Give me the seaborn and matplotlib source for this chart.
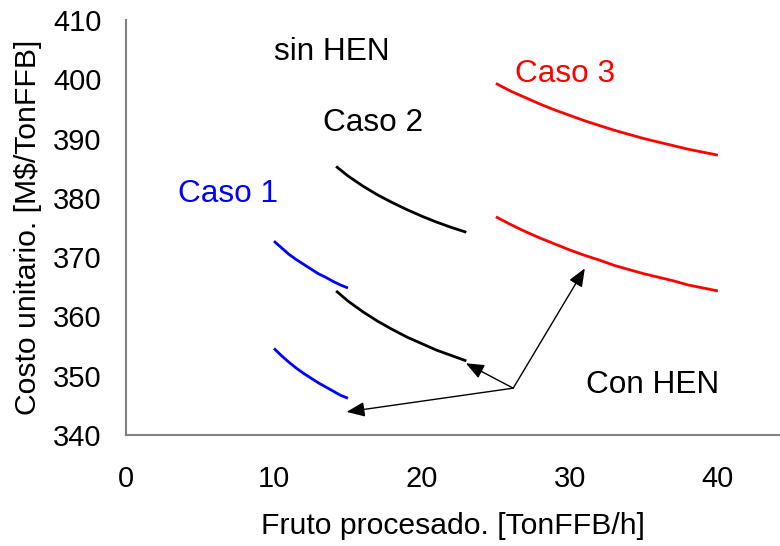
import matplotlib
matplotlib.use("Agg")
import matplotlib.pyplot as plt
import seaborn as sns
import pandas as pd

# Fruit throughput [TonFFB/h] for each case
x_caso1 = [10, 10.5, 11, 11.5, 12, 12.5, 13, 13.5, 14, 14.5, 15]
x_caso2 = [14.2, 15, 16, 17, 18, 19, 20, 21, 22, 23]
x_caso3 = [25, 26, 27, 28, 29, 30, 31, 32, 33, 34, 35, 36, 37, 38, 39, 40]

# Unit cost [M$/TonFFB] without and with heat exchanger network (HEN)
caso1_sin = [372.7, 371.6, 370.5, 369.6, 368.8, 368.0, 367.2, 366.6, 365.9, 365.3, 364.8]
caso1_con = [354.6, 353.4, 352.3, 351.3, 350.4, 349.6, 348.8, 348.1, 347.4, 346.7, 346.2]
caso2_sin = [385.3, 383.7, 382.0, 380.5, 379.2, 378.0, 376.9, 375.9, 375.0, 374.2]
caso2_con = [364.3, 362.6, 360.8, 359.2, 357.8, 356.5, 355.4, 354.3, 353.4, 352.5]
caso3_sin = [399.3, 398.0, 396.9, 395.8, 394.8, 393.9, 393.0, 392.2, 391.4, 390.7,
             390.0, 389.4, 388.8, 388.2, 387.7, 387.2]
caso3_con = [376.8, 375.5, 374.3, 373.2, 372.2, 371.2, 370.3, 369.5, 368.6, 367.9,
             367.2, 366.6, 366.0, 365.3, 364.8, 364.3]

casos = ["Caso 1", "Caso 2", "Caso 3"]
colores = {"Caso 1": "#0000FF", "Caso 2": "#000000", "Caso 3": "#FF0000"}

x_ticks = [0, 10, 20, 30, 40]
y_ticks = [340, 350, 360, 370, 380, 390, 400, 410]

series = [
    ("Caso 1", "sin", x_caso1, caso1_sin),
    ("Caso 1", "con", x_caso1, caso1_con),
    ("Caso 2", "sin", x_caso2, caso2_sin),
    ("Caso 2", "con", x_caso2, caso2_con),
    ("Caso 3", "sin", x_caso3, caso3_sin),
    ("Caso 3", "con", x_caso3, caso3_con),
]
rows = []
for caso, hen, xs, ys in series:
    for xv, yv in zip(xs, ys):
        rows.append({"fruto": xv, "costo": yv, "caso": caso, "serie": f"{caso} {hen}"})
df = pd.DataFrame(rows)

sns.set_theme(style="white")
plt.rcParams["font.family"] = ["Liberation Sans", "DejaVu Sans"]
plt.rcParams["text.color"] = "black"
plt.rcParams["axes.labelcolor"] = "black"

fig = plt.figure(figsize=(7.8, 5.46), dpi=100)
ax = fig.add_axes([126 / 780, (546 - 435) / 546, 654 / 780, 415 / 546])

sns.lineplot(data=df, x="fruto", y="costo", hue="caso", units="serie",
             estimator=None, palette=colores, hue_order=casos,
             linewidth=2.0, legend=False, ax=ax, sort=True,
             solid_joinstyle="round", solid_capstyle="butt")

ax.set_xlim(0, 44.2)
ax.set_ylim(340, 410)
ax.set_xticks(x_ticks)
ax.set_yticks(y_ticks)
ax.tick_params(axis="both", direction="out", length=6.5, width=0.9,
               color="#808080", labelsize=21, labelcolor="black")
ax.tick_params(axis="x", pad=15)
ax.tick_params(axis="y", pad=11)

for side in ["top", "right"]:
    ax.spines[side].set_visible(False)
for side in ["left", "bottom"]:
    ax.spines[side].set_color("#808080")
    ax.spines[side].set_linewidth(1.5)

ax.set_xlabel("Fruto procesado. [TonFFB/h]", fontsize=21.7, labelpad=14)
ax.set_ylabel("Costo unitario. [M$/TonFFB]", fontsize=21.7)
ax.yaxis.set_label_coords(-0.128, 0.5)

# Labels for the curve groups
fs = 22.7
ax.text(10.0, 403.2, "sin HEN", fontsize=fs, color="black", ha="left", va="baseline")
ax.text(13.3, 391.3, "Caso 2", fontsize=fs, color=colores["Caso 2"], ha="left", va="baseline")
ax.text(3.5, 379.3, "Caso 1", fontsize=fs, color=colores["Caso 1"], ha="left", va="baseline")
ax.text(26.3, 399.6, "Caso 3", fontsize=fs, color=colores["Caso 3"], ha="left", va="baseline")
ax.text(31.1, 347.0, "Con HEN", fontsize=fs, color="black", ha="left", va="baseline")

# Arrows pointing from the "Con HEN" label to the HEN curves
origen = (26.17, 347.9)
destinos = [(14.91, 343.9), (22.97, 352.1), (31.01, 368.1)]
for destino in destinos:
    ax.annotate("", xy=destino, xytext=origen,
                arrowprops=dict(arrowstyle="-|>,head_length=1.1,head_width=0.45",
                                mutation_scale=10, color="black", lw=1.0,
                                shrinkA=0, shrinkB=0))

fig.savefig("out.png", dpi=100)
